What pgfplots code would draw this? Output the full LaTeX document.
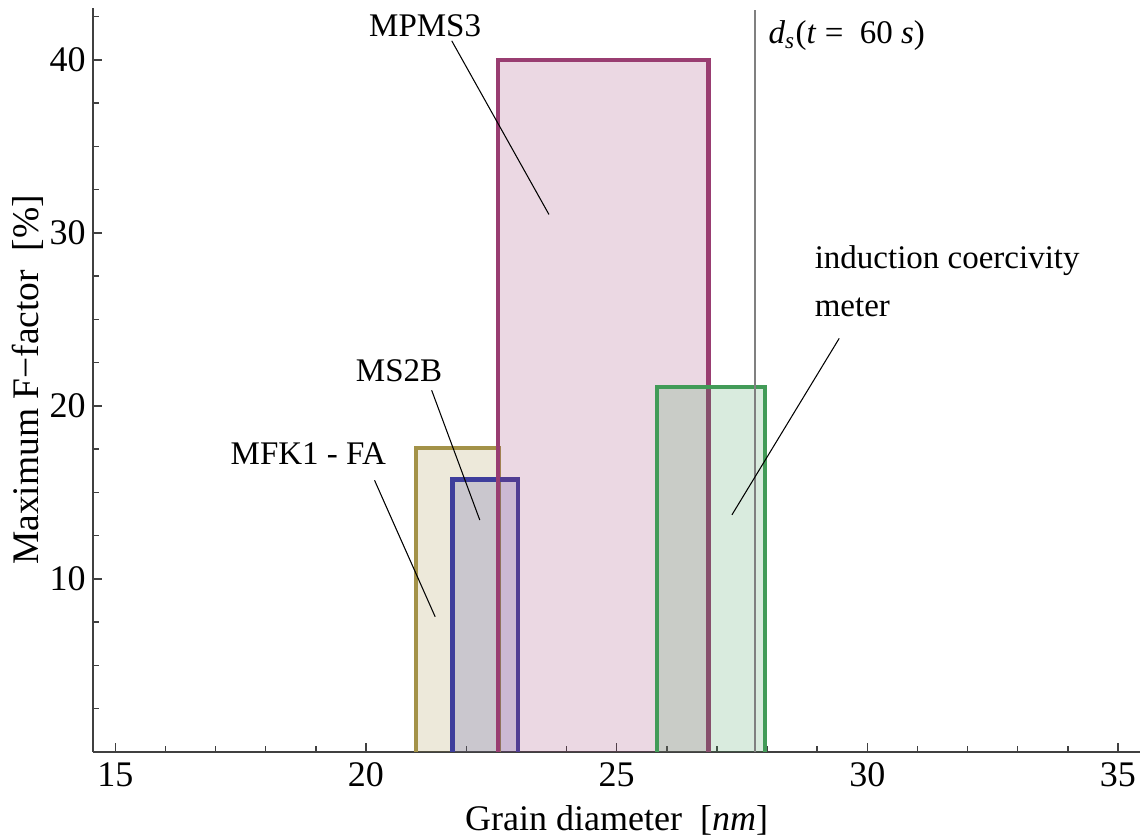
\documentclass[border=0pt]{standalone}
\usepackage{fontspec}
\setmainfont{Liberation Serif}
\usepackage{pgfplots}
\pgfplotsset{compat=1.18}
\definecolor{cOl}{RGB}{163,146,72}
\definecolor{cBl}{RGB}{62,62,156}
\definecolor{cMa}{RGB}{153,61,113}
\definecolor{cGr}{RGB}{66,155,88}
\begin{document}
\begin{tikzpicture}
\begin{axis}[
  scale only axis, width=348.9pt, height=248pt,
  xmin=14.56, xmax=35.44, ymin=0, ymax=43,
  axis lines=left, axis line style={-, draw=black!75, line width=0.6pt},
  xtick={15,20,25,30,35},
  minor xtick={16,17,18,19,21,22,23,24,26,27,28,29,31,32,33,34},
  ytick={10,20,30,40},
  minor ytick={2.5,5,7.5,12.5,15,17.5,22.5,25,27.5,32.5,35,37.5,42.5},
  tick align=inside, major tick length=3pt, minor tick length=1.8pt,
  every tick/.style={black!75, line width=0.5pt},
  tick label style={font=\fontsize{12}{14}\selectfont},
  yticklabel style={xshift=1pt},
  /pgf/number format/assume math mode=true,
  xlabel={Grain diameter\ \ [\textit{nm}]},
  ylabel={Maximum F−factor\ \ [\%]},
  xlabel style={font=\fontsize{12}{14}\selectfont, at={(axis description cs:0.5,0)}, anchor=center, yshift=-22.7pt},
  ylabel style={font=\fontsize{12.5}{14}\selectfont, at={(axis description cs:-0.063,0.5)}, anchor=center},
  clip=false,
]
% MFK1 - FA
\addplot[draw=none, fill=cOl, fill opacity=0.2] coordinates {(21,0) (21,17.55) (22.64,17.55) (22.64,0)};
\addplot[cOl, line width=1.5pt] coordinates {(21,0) (21,17.55) (22.64,17.55) (22.64,0)};
% MS2B
\addplot[draw=none, fill=cBl, fill opacity=0.2] coordinates {(21.73,0) (21.73,15.75) (23.03,15.75) (23.03,0)};
\addplot[cBl, line width=1.5pt] coordinates {(21.73,0) (21.73,15.75) (23.03,15.75) (23.03,0)};
% MPMS3
\addplot[draw=none, fill=cMa, fill opacity=0.2] coordinates {(22.63,0) (22.63,40) (26.83,40) (26.83,0)};
\addplot[cMa, line width=1.5pt] coordinates {(22.63,0) (22.63,40) (26.83,40) (26.83,0)};
% induction coercivity meter
\addplot[draw=none, fill=cGr, fill opacity=0.2] coordinates {(25.81,0) (25.81,21.1) (27.96,21.1) (27.96,0)};
\addplot[cGr, line width=1.5pt] coordinates {(25.81,0) (25.81,21.1) (27.96,21.1) (27.96,0)};
% d_s line
\addplot[black!50, line width=0.4pt] coordinates {(27.76,0) (27.76,42.85)};

\coordinate (A) at (rel axis cs:0,0);
\begin{scope}[font=\fontsize{11}{13}\selectfont, inner sep=0pt]
\node at (axis cs:21.18,41.97) {MPMS3};
\draw[line width=0.35pt] (axis cs:21.71,41.1) -- (axis cs:23.65,31.06);
\node at (axis cs:20.66,22.05) {MS2B};
\draw[line width=0.35pt] (axis cs:21.31,20.9) -- (axis cs:22.27,13.4);
\node at (axis cs:18.85,17.25) {MFK1 - FA};
\draw[line width=0.35pt] (axis cs:20.17,15.7) -- (axis cs:21.38,7.81);
\node[anchor=base west] at (axis cs:28.94,27.93) {induction coercivity};
\node[anchor=base west] at (axis cs:28.94,25.19) {meter};
\draw[line width=0.35pt] (axis cs:29.44,23.9) -- (axis cs:27.30,13.7);
\node[anchor=base west] at (axis cs:28.02,40.95) {\textit{d}\textsubscript{\textit{s}}(\textit{t} =\enspace 60\ \textit{s})};
\end{scope}
\end{axis}
\pgfresetboundingbox
\path (A) ++(-31.1pt,-28.7pt) rectangle ++(380.67pt,279.33pt);
\end{tikzpicture}
\end{document}
